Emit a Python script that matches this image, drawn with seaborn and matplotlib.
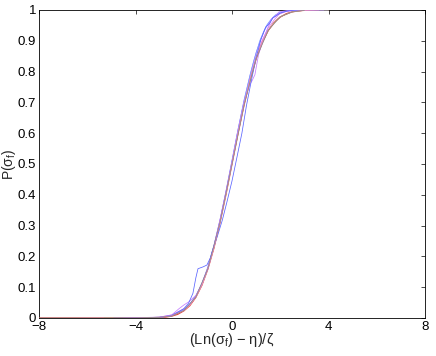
import numpy as np
import pandas as pd

import matplotlib
matplotlib.use("Agg")
import matplotlib.pyplot as plt
import seaborn as sns

# =====================================================
# DATA
# =====================================================

# reference curve (red)
ref_x = [-8.0, -4.0, -3.5, -3.0, -2.75, -2.5, -2.25, -2.0, -1.75, -1.5, -1.25,
         -1.0, -0.75, -0.5, -0.25, 0.0, 0.25, 0.5, 0.75, 1.0, 1.25, 1.5, 1.75,
         2.0, 2.25, 2.5, 2.75, 3.0, 3.5, 4.0]
ref_y = [0.0, 0.0, 0.0002, 0.0013, 0.003, 0.006, 0.012, 0.023, 0.040, 0.067,
         0.106, 0.159, 0.227, 0.309, 0.401, 0.500, 0.599, 0.691, 0.773, 0.841,
         0.894, 0.933, 0.960, 0.977, 0.988, 0.994, 0.997, 0.999, 1.0, 1.0]

# empirical curves
blue_x = [-4.9, -3.0, -2.5, -2.0, -1.8, -1.62, -1.5, -1.41, -1.2, -1.04,
          -0.9, -0.83, -0.62, -0.4, -0.2, 0.0, 0.2, 0.41, 0.6, 0.8, 1.0, 1.2,
          1.4, 1.55, 1.7, 1.85, 2.0, 2.3, 2.6, 3.0, 3.6]
blue_y = [0.0, 0.002, 0.008, 0.030, 0.048, 0.080, 0.130, 0.160, 0.166, 0.172,
          0.195, 0.214, 0.262, 0.318, 0.380, 0.445, 0.520, 0.600, 0.690, 0.770,
          0.845, 0.905, 0.945, 0.955, 0.975, 0.982, 0.990, 0.997, 1.0, 1.0, 1.0]

violet_x = [-4.5, -3.0, -2.5, -2.2, -2.0, -1.8, -1.5, -1.25, -1.0, -0.75,
            -0.5, -0.25, 0.0, 0.25, 0.5, 0.75, 0.83, 0.95, 1.1, 1.3, 1.5, 1.65,
            1.8, 1.95, 2.2, 2.6, 3.2]
violet_y = [0.0, 0.003, 0.010, 0.030, 0.042, 0.052, 0.073, 0.110, 0.160, 0.232,
            0.318, 0.410, 0.505, 0.608, 0.702, 0.760, 0.770, 0.790, 0.855, 0.905,
            0.945, 0.972, 0.980, 0.994, 0.997, 1.0, 1.0]

purple_x = [-4.2, -3.0, -2.5, -2.0, -1.75, -1.5, -1.25, -1.0, -0.75, -0.5,
            -0.25, 0.0, 0.25, 0.5, 0.75, 1.0, 1.2, 1.35, 1.5, 1.7, 1.9, 2.1,
            2.4, 2.8, 3.4]
purple_y = [0.0, 0.002, 0.007, 0.026, 0.046, 0.072, 0.112, 0.166, 0.236, 0.318,
            0.412, 0.512, 0.612, 0.705, 0.788, 0.862, 0.905, 0.935, 0.955, 0.975,
            0.986, 0.993, 0.997, 1.0, 1.0]

magenta_x = [-3.8, -3.0, -2.5, -2.1, -1.9, -1.75, -1.5, -1.25, -1.0, -0.75,
             -0.5, -0.25, 0.0, 0.25, 0.5, 0.75, 1.0, 1.25, 1.5, 1.75, 1.95, 2.2,
             2.5, 3.0, 3.8]
magenta_y = [0.0, 0.003, 0.010, 0.026, 0.034, 0.043, 0.069, 0.108, 0.160, 0.230,
             0.312, 0.405, 0.503, 0.603, 0.697, 0.780, 0.850, 0.902, 0.942, 0.968,
             0.986, 0.994, 0.998, 1.0, 1.0]

green_x = [-5.3, -3.5, -3.0, -2.5, -2.0, -1.75, -1.5, -1.25, -1.0, -0.75,
           -0.5, -0.25, 0.0, 0.25, 0.5, 0.75, 1.0, 1.25, 1.5, 1.75, 2.0, 2.5,
           3.0, 3.5, 4.0]
green_y = [0.0, 0.001, 0.003, 0.008, 0.025, 0.042, 0.069, 0.108, 0.161, 0.229,
           0.311, 0.403, 0.502, 0.601, 0.693, 0.775, 0.843, 0.896, 0.934, 0.961,
           0.978, 0.994, 0.999, 1.0, 1.0]

pink_x = [-6.3, -4.0, -3.0, -2.5, -2.0, -1.75, -1.5, -1.25, -1.0, -0.75,
          -0.5, -0.25, 0.0, 0.25, 0.5, 0.75, 1.0, 1.25, 1.5, 1.75, 2.0, 2.5,
          3.0, 3.6]
pink_y = [0.0, 0.0005, 0.002, 0.007, 0.024, 0.041, 0.068, 0.107, 0.160, 0.228,
          0.310, 0.402, 0.501, 0.600, 0.692, 0.774, 0.842, 0.895, 0.934, 0.961,
          0.978, 0.994, 0.999, 1.0]

lightblue_x = [-4.0, -3.0, -2.5, -2.0, -1.75, -1.5, -1.25, -1.0, -0.75, -0.5,
               -0.25, 0.0, 0.25, 0.5, 0.75, 0.9, 1.0, 1.15, 1.3, 1.45, 1.6,
               1.8, 2.0, 2.4, 3.0, 4.0]
lightblue_y = [0.0, 0.002, 0.008, 0.027, 0.045, 0.070, 0.110, 0.163, 0.233,
               0.316, 0.410, 0.510, 0.612, 0.708, 0.790, 0.835, 0.860, 0.900,
               0.928, 0.952, 0.968, 0.984, 0.993, 0.998, 1.0, 1.0]

gray_x = [-8.0, -4.0, -3.0, -2.5, -2.0, -1.5, -1.0, -0.5, 0.0, 0.5, 1.0,
          1.5, 2.0, 2.5, 3.0]
gray_y = [0.0, 0.0, 0.002, 0.006, 0.024, 0.068, 0.160, 0.310, 0.500, 0.692,
          0.842, 0.934, 0.978, 0.994, 0.999]

series = [
    ("ref", ref_x, ref_y),
    ("green", green_x, green_y),
    ("purple", purple_x, purple_y),
    ("magenta", magenta_x, magenta_y),
    ("lightblue", lightblue_x, lightblue_y),
    ("violet", violet_x, violet_y),
    ("blue", blue_x, blue_y),
    ("pink", pink_x, pink_y),
    ("gray", gray_x, gray_y),
]

colors = {
    "ref": "#e8403f",
    "green": "#6cc84a",
    "purple": "#9a6cff",
    "magenta": "#e07cf0",
    "lightblue": "#7f9cff",
    "violet": "#c47dff",
    "blue": "#5a64ff",
    "pink": "#ff8ca8",
    "gray": "#8a8a8a",
}

rows = []
for name, xs, ys in series:
    for x, y in zip(xs, ys):
        rows.append({"curve": name, "z": x, "P": y})
df = pd.DataFrame(rows)

# =====================================================
# PLOT
# =====================================================

sns.set_style("white")
plt.rcParams["font.family"] = ["Liberation Sans", "DejaVu Sans"]
plt.rcParams["mathtext.fontset"] = "custom"
plt.rcParams["mathtext.rm"] = "Liberation Sans"
plt.rcParams["mathtext.it"] = "Liberation Sans:italic"

fig = plt.figure(figsize=(4.36, 3.56), dpi=100)
ax = fig.add_axes([39 / 436, 1 - 318 / 356, 386 / 436, 308 / 356])

for name, xs, ys in series:
    sub = df[df["curve"] == name]
    sns.lineplot(
        data=sub,
        x="z",
        y="P",
        ax=ax,
        color=colors[name],
        linewidth=0.9 if name == "ref" else 0.55,
        sort=False,
        estimator=None,
        legend=False,
        zorder=3,
    )

ax.set_xlim(-8, 8)
ax.set_ylim(0, 1)
ax.set_xticks([-8, -4, 0, 4, 8])
ax.set_yticks(np.round(np.arange(0, 1.01, 0.1), 1))
ax.set_yticklabels(["0", "0.1", "0.2", "0.3", "0.4", "0.5",
                    "0.6", "0.7", "0.8", "0.9", "1"])

ax.tick_params(direction="in", length=3, width=0.5, labelsize=9.5,
               top=True, right=True, pad=2, colors="black")

for s in ax.spines.values():
    s.set_visible(True)
    s.set_color("black")
    s.set_linewidth(0.6)
    s.set_zorder(1)

ax.set_xlabel(r"(Ln(σ$_\mathrm{f}$) − η)/ζ", fontsize=10.5, labelpad=-1)
ax.set_ylabel(r"P(σ$_\mathrm{f}$)", fontsize=10, labelpad=0)

fig.savefig("out.png", dpi=100)
plt.close(fig)
